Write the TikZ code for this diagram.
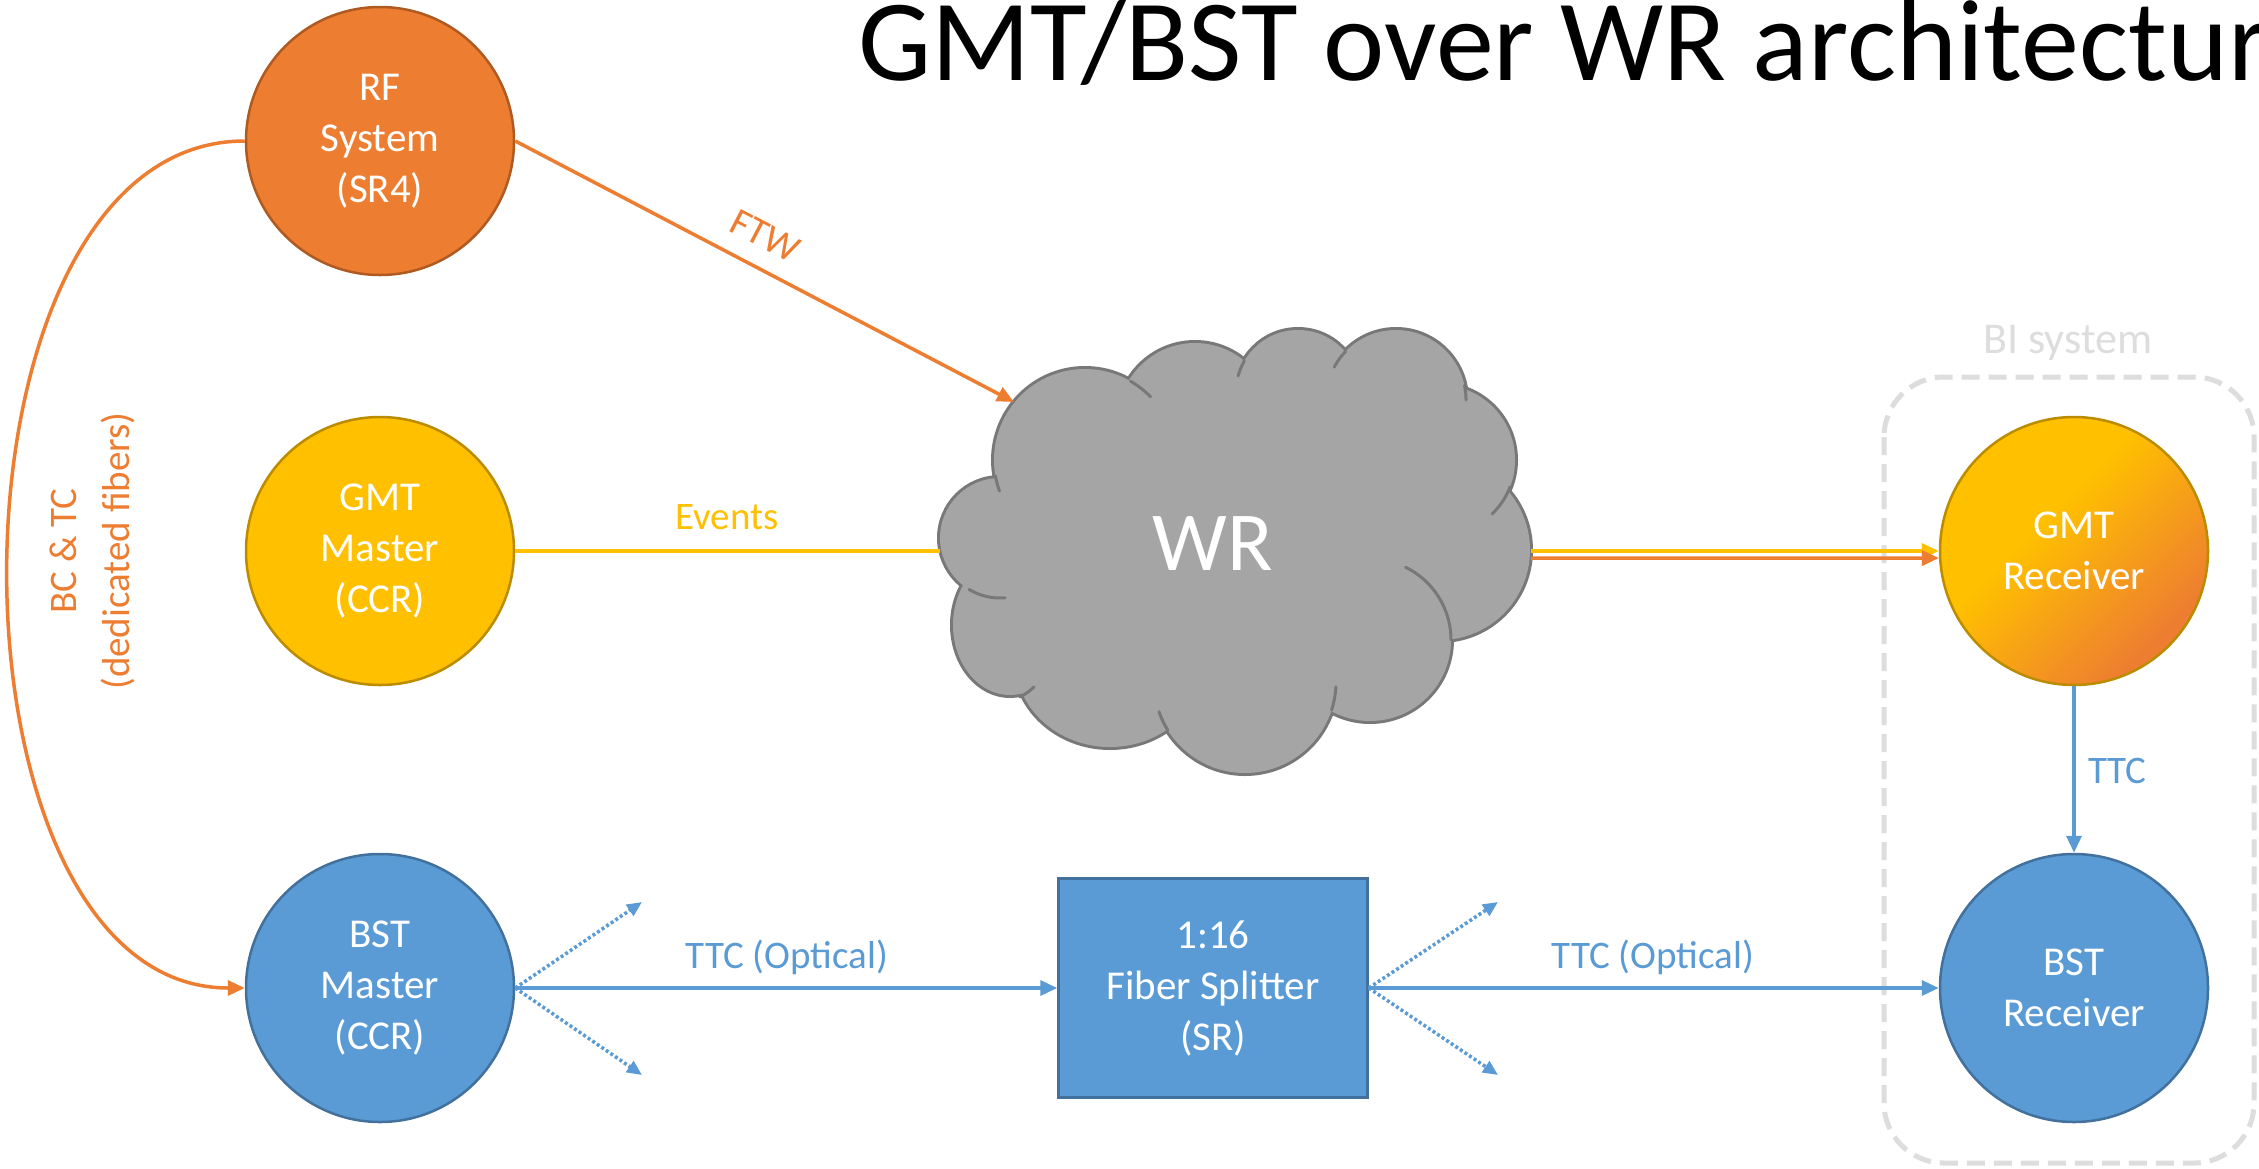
\documentclass[tikz,border=0pt]{standalone}
\usepackage{fontspec}
\setmainfont{Carlito}
\usetikzlibrary{arrows.meta}
\definecolor{orC}{HTML}{ED7D31}
\definecolor{orB}{HTML}{AE5A21}
\definecolor{yeC}{HTML}{FFC000}
\definecolor{yeB}{HTML}{BC8C00}
\definecolor{blC}{HTML}{5B9BD5}
\definecolor{blB}{HTML}{41719C}
\definecolor{clF}{HTML}{A5A5A5}
\definecolor{clL}{HTML}{787878}
\definecolor{biC}{HTML}{DDDDDD}
\pgfdeclareverticalshading{gmtshade}{100bp}{color(0bp)=(orC); color(27bp)=(orC); color(58bp)=(yeC); color(100bp)=(yeC)}
\newcommand\myNodeFont{\fontsize{41}{51}\selectfont}
\newcommand\myLblFont{\fontsize{39}{53}\selectfont}
\newcommand\myTitleFont{\fontsize{116}{130}\selectfont}
\newcommand\myWRFont{\fontsize{84}{96}\selectfont}
\newcommand\myBIFont{\fontsize{44}{52}\selectfont}
\tikzset{
 sysnode/.style={circle, minimum size=268pt, inner sep=0pt, align=center, text=white, font=\myNodeFont, line width=2.5pt},
 conn/.style={line width=3.5pt},
 arrowtip/.style={-{Triangle[length=17pt,width=15pt]}},
 dotconn/.style={line width=3.5pt, dash pattern=on 3pt off 2.5pt, blC, -{Triangle[length=15pt,width=13pt]}},
 lbl/.style={font=\myLblFont, inner sep=0pt},
 cloudedge/.style={clL, line width=3pt, line cap=round},
}
\begin{document}
\begin{tikzpicture}[x=1pt,y=-1pt]
\useasboundingbox (0,0) rectangle (2259,1168);
\clip (0,0) rectangle (2259,1168);
\fill[white] (0,0) rectangle (2259,1168);

% title
\node[anchor=base west, font=\myTitleFont, inner sep=0pt] (title) at (858,80) {GMT/BST over WR architecture};

% BI system box
\draw[biC, line width=5pt, dash pattern=on 18pt off 9pt, rounded corners=60pt] (1884,377) rectangle (2254,1163);
\node[font=\myBIFont, text=biC, anchor=base, inner sep=0pt] (bilabel) at (2068,353) {BI system};

% cloud
\foreach \cx/\cy/\rx/\ry in {1085/460/91/91, 1195/420/77/77, 1298/392/62/62, 1396/400/70/70, 1440/460/75/75, 1440/550/90/90, 1370/640/81/81, 1245/682/91/91, 1110/660/95/87, 1010/625/57/70, 1000/538/60/60}
  \draw[clL, line width=6pt] (\cx,\cy) ellipse [x radius=\rx, y radius=\ry];
\foreach \cx/\cy/\rx/\ry in {1085/460/91/91, 1195/420/77/77, 1298/392/62/62, 1396/400/70/70, 1440/460/75/75, 1440/550/90/90, 1370/640/81/81, 1245/682/91/91, 1110/660/95/87, 1010/625/57/70, 1000/538/60/60}
  \fill[clF] (\cx,\cy) ellipse [x radius=\rx, y radius=\ry];
\fill[clF] (1215,550) ellipse [x radius=220, y radius=150];
\draw[cloudedge] plot[domain=-60:-44, samples=12, variable=\t] ({1085+91*cos(\t)},{460+91*sin(\t)});
\draw[cloudedge] plot[domain=-150:-165, samples=12, variable=\t] ({1298+62*cos(\t)},{392+62*sin(\t)});
\draw[cloudedge] plot[domain=-136:-152, samples=12, variable=\t] ({1396+70*cos(\t)},{400+70*sin(\t)});
\draw[cloudedge] plot[domain=-12:0, samples=12, variable=\t] ({1396+70*cos(\t)},{400+70*sin(\t)});
\draw[cloudedge] plot[domain=21:46, samples=12, variable=\t] ({1440+75*cos(\t)},{460+75*sin(\t)});
\draw[cloudedge] plot[domain=-64:0, samples=20, variable=\t] ({1370+81*cos(\t)},{640+81*sin(\t)});
\draw[cloudedge] plot[domain=3:18, samples=12, variable=\t] ({1245+91*cos(\t)},{682+91*sin(\t)});
\draw[cloudedge] plot[domain=148:161, samples=12, variable=\t] ({1245+91*cos(\t)},{682+91*sin(\t)});
\draw[cloudedge] plot[domain=85:121, samples=12, variable=\t] ({1000+60*cos(\t)},{538+60*sin(\t)});
\draw[cloudedge] plot[domain=160:170, samples=12, variable=\t] ({1085+91*cos(\t)},{460+91*sin(\t)});
\draw[cloudedge] (1034,687) .. controls (1027,693) .. (1020,697);
\node[font=\myWRFont, text=white, anchor=base, inner sep=0pt] (wr) at (1213,570) {WR};

% nodes
\node[sysnode, fill=orC, draw=orB] (rf) at (380,141) {RF\\System\\(SR4)};
\node[sysnode, fill=yeC, draw=yeB] (gmtm) at (380,551) {GMT\\Master\\(CCR)};
\node[sysnode, fill=blC, draw=blB] (bstm) at (380,988) {BST\\Master\\(CCR)};
\node[sysnode, shading=gmtshade, shading angle=45, draw=yeB] (gmtr) at (2074,551) {GMT\\Receiver};
\node[sysnode, fill=blC, draw=blB] (bstr) at (2074,988) {BST\\Receiver};
\node[rectangle, minimum width=309pt, minimum height=219pt, inner sep=0pt, fill=blC, draw=blB, line width=2.5pt, align=center, text=white, font=\myNodeFont] (split) at (1213,988) {1:16\\Fiber Splitter\\(SR)};

% coordinates
\coordinate (ftwend) at (1014,402);
\coordinate (evend) at (940,551);
\coordinate (wrE1) at (1531,551);
\coordinate (wrE2) at (1531,558);
\coordinate (d1) at (642,902);
\coordinate (d2) at (642,1075);
\coordinate (d3) at (1498,902);
\coordinate (d4) at (1498,1075);

% connectors
\draw[conn, orC, arrowtip] (rf.west) .. controls (-70,141) and (-70,988) .. (bstm.west);
\node[lbl, text=orC, rotate=90, align=center] (bctc) at (92,551) {BC \& TC\\(dedicated fibers)};
\draw[conn, orC, arrowtip] (rf.east) -- (ftwend);
\node[lbl, text=orC, rotate=-27.5] (ftw) at (765,236) {FTW};
\draw[conn, yeC] (gmtm.east) -- (evend);
\node[lbl, text=yeC, anchor=base] (events) at (727,529) {Events};
\draw[conn, yeC, arrowtip] (wrE1) -- (gmtr.west);
\draw[conn, orC, arrowtip] (wrE2) -- (gmtr.183);
\draw[conn, blC, arrowtip] (gmtr.south) -- (bstr.north);
\node[lbl, text=blC, anchor=base west] (ttc) at (2088,783) {TTC};
\draw[conn, blC, arrowtip] (bstm.east) -- (split.west);
\node[lbl, text=blC, anchor=base] (opt1) at (787,968) {TTC (Optical)};
\draw[conn, blC, arrowtip] (split.east) -- (bstr.west);
\node[lbl, text=blC, anchor=base] (opt2) at (1653,968) {TTC (Optical)};
\draw[dotconn] (bstm.east) -- (d1);
\draw[dotconn] (bstm.east) -- (d2);
\draw[dotconn] (split.east) -- (d3);
\draw[dotconn] (split.east) -- (d4);
\end{tikzpicture}
\end{document}
